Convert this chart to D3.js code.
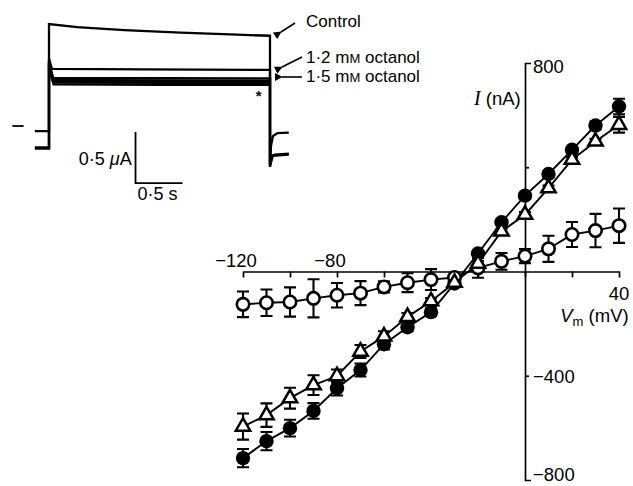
<!DOCTYPE html>
<html>
<head>
<meta charset="utf-8">
<script src="https://cdn.jsdelivr.net/npm/d3@7"></script>
<style>
body{margin:0;background:#fff;}
svg{display:block;font-family:"Liberation Sans",Arial,Helvetica,sans-serif;}
</style>
</head>
<body>
<script>
//I-V data, mV and nA
var voltages = [-120,-110,-100,-90,-80,-70,-60,-50,-40,-30,-20,-10,0,10,20,30,40];
var filledI  = [-716,-651,-601,-535,-448,-378,-279,-214,-156,-46,69,189,291,374,467,560,633];
var filledErr = [35,35,32,30,28,25,20,15,15,10,10,10,10,10,10,15,30];
var triangleI = [-595,-551,-486,-436,-401,-307,-249,-174,-114,-43,30,154,218,320,429,499,563];
var triangleErr = [50,45,40,38,25,25,20,15,12,10,10,10,10,10,10,10,30];
var openI = [-126,-120,-117,-103,-91,-83,-59,-43,-31,-23,14,39,59,87,142,157,176];
var openErr = [49,51,56,73,47,46,21,36,40,10,38,32,27,50,48,64,66];

var xTicks = [-120,-100,-80,-60,-40,-20,0,20,40];
var yTicks = [-800,-400,0,400,800];

//inset traces, [time s, current uA]
var controlTrace = [[-0.15,-0.05],[0,-0.05],[0,1.0],[0.3,0.97],[0.8,0.94],[1.4,0.915],[2.0,0.895],[2.35,0.885],[2.35,-0.40],[2.36,-0.2],[2.38,-0.1],[2.43,-0.07],[2.55,-0.065]];
var oct12Trace = [[-0.15,-0.21],[0,-0.21],[0,0.66],[0.03,0.56],[1.0,0.555],[2.35,0.55],[2.35,-0.40],[2.37,-0.3],[2.4,-0.28],[2.55,-0.27]];
var oct15TraceA = [[-0.15,-0.22],[0,-0.22],[0,0.62],[0.04,0.47],[1.2,0.468],[2.35,0.465],[2.35,-0.38],[2.38,-0.29],[2.55,-0.28]];
var oct15TraceB = [[0,0.6],[0.05,0.45],[1.2,0.445],[2.35,0.44]];
var oct15TraceC = [[0,0.58],[0.05,0.43],[1.2,0.425],[2.35,0.42]];
var oct15TraceD = [[0,0.56],[0.05,0.41],[1.2,0.405],[2.35,0.405]];

var width = 633, height = 486;

var svg = d3.select("body").append("svg")
	.attr("width", width)
	.attr("height", height);

svg.append("defs").append("marker")
	.attr("id", "arrow")
	.attr("viewBox", "0 0 10 10")
	.attr("refX", 1).attr("refY", 5)
	.attr("markerWidth", 5).attr("markerHeight", 5)
	.attr("orient", "auto-start-reverse")
	.append("path")
	.attr("d", "M10,0L0,5L10,10z")
	.attr("fill", "#000");

setInset();
setChart();

function setInset(){
	var tScale = d3.scaleLinear().domain([0, 2.35]).range([49, 270]);
	var iScale = d3.scaleLinear().domain([0, 1]).range([126, 24]);

	var line = d3.line()
		.x(function(d){ return tScale(d[0]); })
		.y(function(d){ return iScale(d[1]); });

	var g = svg.append("g").attr("class", "inset");

	g.selectAll(".trace")
		.data([controlTrace, oct12Trace, oct15TraceA, oct15TraceB, oct15TraceC, oct15TraceD])
		.enter()
		.append("path")
		.attr("class", "trace")
		.attr("d", line)
		.attr("fill", "none")
		.attr("stroke", "#000")
		.attr("stroke-width", function(d, i){ return i > 1 ? 2.6 : 2.3; });

	//zero current marker
	g.append("line")
		.attr("x1", tScale(-0.39)).attr("x2", tScale(-0.27))
		.attr("y1", iScale(0)).attr("y2", iScale(0))
		.attr("stroke", "#000").attr("stroke-width", 1.8);

	//scale bar
	g.append("path")
		.attr("d", "M" + tScale(0.92) + "," + iScale(-0.06) +
			"V" + iScale(-0.56) + "H" + tScale(1.42))
		.attr("fill", "none")
		.attr("stroke", "#000")
		.attr("stroke-width", 1.8);

	var lbA = g.append("text")
		.attr("x", tScale(0.88)).attr("y", iScale(-0.385))
		.attr("text-anchor", "end")
		.attr("font-size", 18);
	lbA.append("tspan").text("0·5 ");
	lbA.append("tspan").attr("font-style", "italic").text("μ");
	lbA.append("tspan").text("A");

	g.append("text")
		.attr("x", tScale(0.94)).attr("y", iScale(-0.73))
		.attr("font-size", 18)
		.text("0·5 s");

	g.append("text")
		.attr("x", tScale(2.23)).attr("y", iScale(0.25))
		.attr("text-anchor", "middle")
		.attr("font-size", 15)
		.attr("font-weight", "bold")
		.text("*");

	//trace labels
	var labels = [
		{text: "Control", y: 27, ax1: 278, ay1: 32, ax2: 295, ay2: 23},
		{text: "1·2 mM octanol", y: 63, ax1: 279, ay1: 67, ax2: 302, ay2: 57},
		{text: "1·5 mM octanol", y: 82, ax1: 279, ay1: 77, ax2: 302, ay2: 77}
	];
	labels.forEach(function(l){
		g.append("line")
			.attr("x1", l.ax2).attr("y1", l.ay2)
			.attr("x2", l.ax1 + 3).attr("y2", l.ay1)
			.attr("stroke", "#000").attr("stroke-width", 1.6)
			.attr("marker-end", "url(#arrow)");
		var t = g.append("text")
			.attr("x", 306).attr("y", l.y)
			.attr("font-size", 17);
		var m = l.text.match(/^(.*) mM (.*)$/);
		if (m){
			t.append("tspan").text(m[1] + " m");
			t.append("tspan").attr("font-size", 13).text("M");
			t.append("tspan").text(" " + m[2]);
		} else {
			t.text(l.text);
		}
	});
}

function setChart(){
	var x = d3.scaleLinear().domain([-120, 40]).range([243, 619]);
	var y = d3.scaleLinear().domain([-800, 800]).range([480, 63]);

	var g = svg.append("g").attr("class", "chart");

	var xAxis = d3.axisBottom(x)
		.tickValues(xTicks)
		.tickSize(6)
		.tickSizeOuter(0)
		.tickFormat("");
	g.append("g")
		.attr("transform", "translate(0," + y(0) + ")")
		.call(xAxis);

	var yAxis = d3.axisRight(y)
		.tickValues(yTicks.filter(function(v){ return v !== 0 && Math.abs(v) !== 800; }))
		.tickSize(4)
		.tickSizeOuter(6)
		.tickFormat("");
	g.append("g")
		.attr("transform", "translate(" + x(0) + ",0)")
		.call(yAxis);

	g.selectAll(".domain, .tick line")
		.attr("stroke", "#000")
		.attr("stroke-width", 1.7);

	//tick labels
	var xLab = [{v: -120, above: true}, {v: -80, above: true}, {v: 40, above: false}];
	g.selectAll(".xlab")
		.data(xLab)
		.enter()
		.append("text")
		.attr("class", "xlab")
		.attr("x", function(d){ return d.above ? x(d.v) - 7 : x(d.v); })
		.attr("y", function(d){ return d.above ? y(0) - 5 : y(0) + 28; })
		.attr("text-anchor", "middle")
		.attr("font-size", 18.5)
		.text(function(d){ return d.v < 0 ? "\u2212" + Math.abs(d.v) : d.v; });

	var yLab = [800, -400, -800];
	g.selectAll(".ylab")
		.data(yLab)
		.enter()
		.append("text")
		.attr("class", "ylab")
		.attr("x", x(0) + 8)
		.attr("y", function(d){ return d === 800 ? y(d) + 10 : (d === -800 ? y(d) + 1 : y(d) + 7); })
		.attr("font-size", 18.5)
		.text(function(d){ return d < 0 ? "\u2212" + Math.abs(d) : d; });

	//axis titles
	var yt = g.append("text")
		.attr("x", x(0) - 51).attr("y", y(640))
		.attr("font-size", 18.5);
	yt.append("tspan").attr("font-family", "'Liberation Serif','Times New Roman',serif")
		.attr("font-style", "italic").attr("font-size", 20).text("I");
	yt.append("tspan").text(" (nA)");

	var xt = g.append("text")
		.attr("x", x(15)).attr("y", y(-195))
		.attr("font-size", 18.5);
	xt.append("tspan").attr("font-style", "italic").text("V");
	xt.append("tspan").attr("font-size", 13).attr("dy", 4).text("m");
	xt.append("tspan").attr("dy", -4).text(" (mV)");

	var series = [
		{name: "filled", vals: filledI, err: filledErr},
		{name: "open", vals: openI, err: openErr},
		{name: "triangle", vals: triangleI, err: triangleErr}
	];

	var line = d3.line()
		.x(function(d){ return x(d.v); })
		.y(function(d){ return y(d.i); });

	series.forEach(function(s){
		s.points = voltages.map(function(v, k){
			return {v: v, i: s.vals[k], e: s.err[k]};
		});
	});

	series.forEach(function(s){
		g.append("path")
			.datum(s.points)
			.attr("d", line)
			.attr("fill", "none")
			.attr("stroke", "#000")
			.attr("stroke-width", 1.9);
	});

	series.forEach(function(s){
		g.selectAll(".err-" + s.name)
			.data(s.points)
			.enter()
			.append("path")
			.attr("class", "err-" + s.name)
			.attr("d", function(d){
				var cx = x(d.v), y1 = y(d.i + d.e), y2 = y(d.i - d.e);
				return "M" + cx + "," + y1 + "V" + y2 +
					"M" + (cx - 6) + "," + y1 + "H" + (cx + 6) +
					"M" + (cx - 6) + "," + y2 + "H" + (cx + 6);
			})
			.attr("fill", "none")
			.attr("stroke", "#000")
			.attr("stroke-width", 2.1);
	});

	series.forEach(function(s){
		if (s.name === "triangle"){
			g.selectAll(".pt-" + s.name)
				.data(s.points)
				.enter()
				.append("path")
				.attr("d", d3.symbol().type(d3.symbolTriangle).size(90))
				.attr("transform", function(d){ return "translate(" + x(d.v) + "," + y(d.i) + ")"; })
				.attr("fill", "#fff")
				.attr("stroke", "#000")
				.attr("stroke-width", 2.5);
		} else {
			g.selectAll(".pt-" + s.name)
				.data(s.points)
				.enter()
				.append("circle")
				.attr("cx", function(d){ return x(d.v); })
				.attr("cy", function(d){ return y(d.i); })
				.attr("r", s.name === "filled" ? 7.2 : 6.2)
				.attr("fill", s.name === "filled" ? "#000" : "#fff")
				.attr("stroke", "#000")
				.attr("stroke-width", s.name === "filled" ? 0 : 2.6);
		}
	});
}
</script>
</body>
</html>
